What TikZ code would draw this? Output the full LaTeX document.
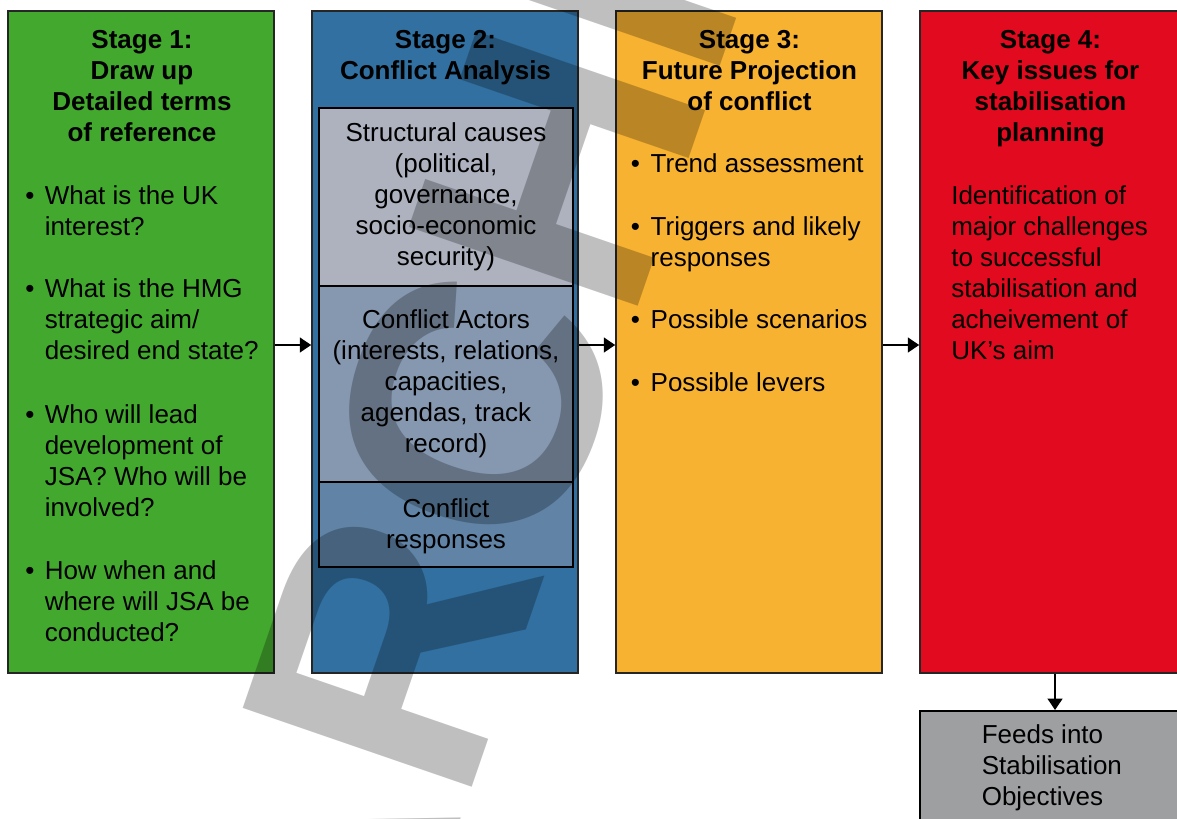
\documentclass[tikz,border=0pt]{standalone}
\usepackage{fontspec}
\setmainfont{Liberation Sans}
\usetikzlibrary{fit,arrows.meta}
\definecolor{cgreen}{HTML}{43A82E}
\definecolor{cblue}{HTML}{3170A0}
\definecolor{corange}{HTML}{F8B232}
\definecolor{cred}{HTML}{E20A1E}
\definecolor{cgrey}{HTML}{9E9FA1}
\definecolor{cstruct}{HTML}{ADB2BE}
\definecolor{cactors}{HTML}{8697B0}
\definecolor{cresp}{HTML}{6083A6}
\newcommand{\fsz}{\fontsize{19.5}{23.35}\selectfont}
\newcommand{\lblk}[1]{\parbox[t]{300pt}{\raggedright #1}}
\newcommand{\cblk}[1]{\parbox[t]{300pt}{\centering #1}}
\begin{document}
\begin{tikzpicture}[x=0.75pt,y=-0.75pt,
  stagebox/.style={draw=black!85, line width=1.2pt, inner sep=0pt},
  innerbox/.style={draw=black, line width=1.9pt, inner sep=0pt},
  txt/.style={inner sep=0pt, anchor=base west, font=\fsz},
  ctxt/.style={inner sep=0pt, anchor=base, font=\fsz},
  ttl/.style={inner sep=0pt, anchor=base, font=\fsz\bfseries},
  arr/.style={line width=1.6pt, -{Triangle[length=8.5pt,width=11pt]}}]
\useasboundingbox (0,0) rectangle (1177,818);
\clip (0,0) rectangle (1177,818);
\fill[white] (0,0) rectangle (1177,818);

% boxes
\node[stagebox, fill=cgreen, fit={(8,11) (274,673)}] (s1) {};
\node[stagebox, fill=cblue, fit={(312,11) (578,673)}] (s2) {};
\node[stagebox, fill=corange, fit={(616,11) (882,673)}] (s3) {};
\node[stagebox, fill=cred, fit={(920,11) (1181,673)}] (s4) {};
\node[innerbox, fill=cstruct, fit={(319,108) (573,286)}] (b1) {};
\node[innerbox, fill=cactors, fit={(319,286) (573,482)}] (b2) {};
\node[innerbox, fill=cresp, fit={(319,482) (573,567)}] (b3) {};
\node[innerbox, line width=1.5pt, fill=cgrey, fit={(920,711) (1181,830)}] (fd) {};

% arrows
\draw[arr] ([yshift=-2.25pt]s1.east) -- ([yshift=-2.25pt]s2.west);
\draw[arr] ([yshift=-2.25pt]s2.east) -- ([yshift=-2.25pt]s3.west);
\draw[arr] ([yshift=-2.25pt]s3.east) -- ([yshift=-2.25pt]s4.west);
\draw[arr] ([xshift=3.4pt]s4.south) -- ([xshift=3.4pt]fd.north);

% stage 1
\node[ttl] (t1) at (142,48) {\cblk{Stage 1:\\Draw up\\Detailed terms\\of reference}};
\node[txt] (d1a) at (25.2,204) {•};
\node[txt] (q1a) at (44.5,204) {\lblk{What is the UK\\interest?}};
\node[txt] (d1b) at (25.2,297) {•};
\node[txt] (q1b) at (44.5,297) {\lblk{What is the HMG\\strategic aim/\\desired end state?}};
\node[txt] (d1c) at (25.2,423) {•};
\node[txt] (q1c) at (44.5,423) {\lblk{Who will lead\\development of\\JSA? Who will be\\involved?}};
\node[txt] (d1d) at (25.2,579) {•};
\node[txt] (q1d) at (44.5,579) {\lblk{How when and\\where will JSA be\\conducted?}};

% stage 2
\node[ttl] (t2) at (445.5,48) {\cblk{Stage 2:\\Conflict Analysis}};
\node[ctxt] (c2a) at (446,141) {\cblk{Structural causes\\(political,\\governance,\\socio-economic\\security)}};
\node[ctxt] (c2b) at (446,328) {\cblk{Conflict Actors\\(interests, relations,\\capacities,\\agendas, track\\record)}};
\node[ctxt] (c2c) at (446,517) {\cblk{Conflict\\responses}};

% stage 3
\node[ttl] (t3) at (749.5,48) {\cblk{Stage 3:\\Future Projection\\of conflict}};
\node[txt] (d3a) at (630.5,172) {•};
\node[txt] (q3a) at (650.4,172) {\lblk{Trend assessment}};
\node[txt] (d3b) at (630.5,235) {•};
\node[txt] (q3b) at (650.4,235) {\lblk{Triggers and likely\\responses}};
\node[txt] (d3c) at (630.5,328) {•};
\node[txt] (q3c) at (650.4,328) {\lblk{Possible scenarios}};
\node[txt] (d3d) at (630.5,391) {•};
\node[txt] (q3d) at (650.4,391) {\lblk{Possible levers}};

% stage 4
\node[ttl] (t4) at (1050.5,48) {\cblk{Stage 4:\\Key issues for\\stabilisation\\planning}};
\node[txt] (q4) at (951,204) {\lblk{Identification of\\major challenges\\to successful\\stabilisation and\\acheivement of\\UK’s aim}};

% feeds
\node[txt] (qf) at (981.5,743) {\lblk{Feeds into\\Stabilisation\\Objectives}};

% watermark
\node[inner sep=0pt, anchor=base west, rotate=71, text=black, text opacity=0.25,
  font=\fontsize{264}{264}\selectfont\bfseries] (wm) at (381.7,1049.7) {ARCHIVED};
\end{tikzpicture}
\end{document}
